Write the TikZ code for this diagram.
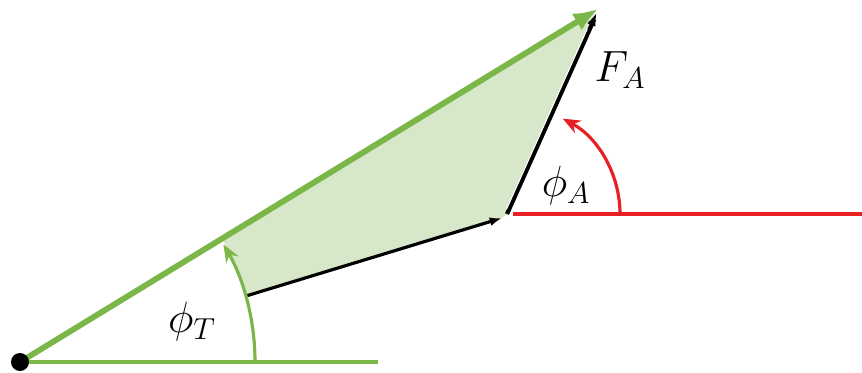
\documentclass[tikz,border=0pt]{standalone}
\usetikzlibrary{arrows.meta}
\definecolor{vgreen}{RGB}{122,182,72}
\definecolor{lgreen}{RGB}{215,232,202}
\definecolor{vred}{RGB}{232,32,36}
\begin{document}
\begin{tikzpicture}[x=0.02cm,y=-0.02cm,
  lbl/.style={inner sep=0pt,font=\fontsize{27}{30}\selectfont},
  blk/.style={black,line width=1.8pt}]
\useasboundingbox (0,0) rectangle (862,372);
\coordinate (O) at (20,362);
\coordinate (B) at (246,296);
\coordinate (C) at (502,218);
\coordinate (D) at (598,9);
\coordinate (E) at (507,214);
\coordinate (G) at (222,239);
\coordinate (Gend) at (378,362);
\coordinate (Rs) at (513,214);
\coordinate (Re) at (862,214);
% fill
\fill[lgreen] (B) -- (C) -- (E) -- (595,13) -- (G) arc[start angle=-30,end angle=-22,radius=235] -- cycle;
% green baseline
\draw[vgreen,line width=2pt] (O) -- (Gend);
% green thick vector
\draw[vgreen,line width=3.3pt,-{Latex[length=14pt,width=11pt]}] (O) -- (D);
% black vector
\draw[blk,-{Latex[length=7pt,width=5pt]}] (B) -- (C);
% F_A double line
\draw[black,line width=2.4pt,shorten >=4pt] (E) -- (597,13);
\draw[white,line width=0.6pt,shorten >=10pt,shorten <=3pt] ([xshift=-1.5]E) -- ([xshift=-1.5]597,13);
\draw[blk,-{Latex[length=8pt,width=5pt]}] (590,28) -- (597,12);
% red line and arc
\draw[vred,line width=2pt] (Rs) -- (Re);
\draw[vred,line width=1.8pt,-{Stealth[length=10pt,width=8pt]}] (620,214) arc[start angle=0,end angle=-62,radius=108];
% green arc
\draw[vgreen,line width=1.8pt,-{Stealth[length=10pt,width=8pt]}] (255,362) arc[start angle=0,end angle=-30,radius=235];
% dot
\fill[black] (O) circle (9);
% labels
\node[lbl] (FA) at (620,70) {$F_A$};
\node[lbl] (PA) at (566,186) {$\phi_A$};
\node[lbl] (PT) at (192,322) {$\phi_T$};
\end{tikzpicture}
\end{document}
